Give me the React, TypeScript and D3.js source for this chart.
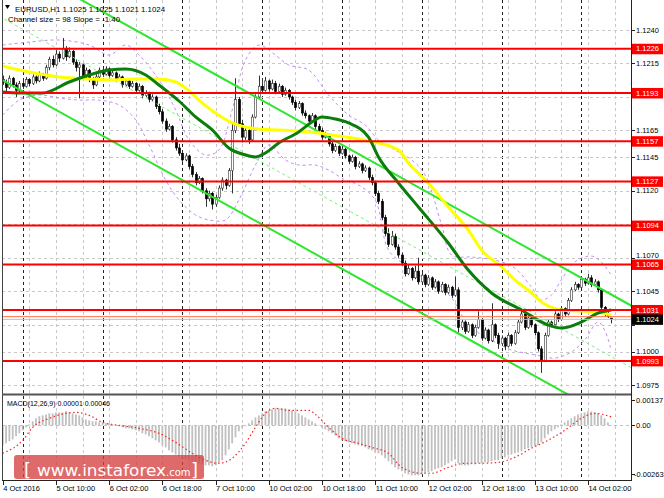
import React from 'react';
import * as d3 from 'd3';

// ---------- DATA (candles in pips above 1.1000) ----------
const candleOpen = [
  203,201,197,204,199,195,200,198,203,200, 205,202,207,204,212,218,214,222,219,226,
  220,224,216,212,214,205,210,203,199,205, 210,207,211,206,208,203,205,199,202,198,
  200,195,198,191,193,188,190,183,179,172, 166,168,158,152,148,143,146,138,132,126,
  129,120,114,118,110,115,122,128,124,135, 165,188,170,160,165,158,175,190,198,195,
  202,196,200,194,198,192,195,190,186,182, 185,178,176,172,176,168,165,160,162,155,
  150,153,148,151,146,142,145,138,140,135, 137,130,126,118,112,100,88,80,86,78,
  72,66,58,62,55,60,52,57,50,55, 48,52,45,50,44,48,42,46,18,22,
  15,20,12,18,24,10,16,8,20,12, 6,10,4,12,6,14,22,28,18,25,
  20,14,2,-7,12,22,20,28,24,32, 28,38,46,50,48,54,51,55,50,52,
  46,33,28,25];
const candleHigh = [
  206,203,206,205,201,202,203,205,204,207, 206,209,208,214,220,221,225,224,234,228,
  227,225,218,216,215,212,211,205,207,212, 211,213,212,210,209,207,206,204,203,202,
  201,200,199,195,194,192,191,185,181,174, 170,169,160,155,150,148,147,140,134,131,
  130,122,120,119,117,124,130,129,137,170, 204,190,173,167,166,177,192,206,204,205,
  203,203,202,200,199,197,196,191,188,187, 186,180,177,178,177,170,167,164,163,157,
  155,154,153,152,147,147,146,142,141,139, 138,132,127,120,114,102,92,90,88,80,
  74,68,65,63,64,70,59,58,57,56, 54,53,52,51,50,49,56,48,24,23,
  22,21,20,30,25,18,17,36,21,14, 12,11,14,13,16,24,32,29,27,26,
  21,15,4,14,24,23,30,29,34,33, 40,48,52,51,56,55,58,57,54,53,
  47,34,30,25];
const candleLow = [
  199,194,196,197,190,193,196,197,198,199, 200,201,202,203,210,212,213,216,218,217,
  219,214,209,189,203,204,201,196,198,204, 205,206,204,205,201,202,197,198,196,197,
  193,194,189,190,186,187,181,177,170,164, 165,156,150,146,141,142,136,130,124,125,
  118,108,112,106,108,114,120,121,123,118, 163,168,156,158,155,157,174,188,193,194,
  194,195,192,193,190,191,188,184,180,181, 176,174,170,171,166,163,158,159,153,148,
  149,146,147,144,140,141,136,137,133,134, 128,124,116,110,98,86,78,79,76,70,
  64,56,57,53,54,50,51,48,49,46, 47,43,44,42,43,40,41,14,16,13,
  14,10,11,17,8,9,6,7,10,2, 4,1,3,4,5,13,21,16,17,18,
  12,0,-16,-8,11,18,19,22,23,26, 27,37,45,46,47,49,50,48,49,44,
  31,26,25,21];
const candleClose = [
  201,197,204,199,195,200,198,203,200,205, 202,207,204,212,218,214,222,219,226,220,
  224,216,212,214,205,210,203,199,205,210, 207,211,206,208,203,205,199,202,198,200,
  195,198,191,193,188,190,183,179,172,166, 168,158,152,148,143,146,138,132,126,129,
  120,114,118,110,115,122,128,124,135,165, 188,170,160,165,158,175,190,198,195,202,
  196,200,194,198,192,195,190,186,182,185, 178,176,172,176,168,165,160,162,155,150,
  153,148,151,146,142,145,138,140,135,137, 130,126,118,112,100,88,80,86,78,72,
  66,58,62,55,60,52,57,50,55,48, 52,45,50,44,48,42,46,18,22,15,
  20,12,18,24,10,16,8,20,12,6, 10,4,12,6,14,22,28,18,25,20,
  14,2,-7,12,22,20,28,24,32,28, 38,46,50,48,54,51,55,50,52,46,
  33,28,26,24];

// moving averages (bar index, pips)
const yellowIdx = [0,8,17,26,32,40,47,52,55,59,64,69,73,77,83,89,95,101,107,113,119,122,128,134,140,144,150,154,158,162,164,168,174,179,183];
const yellowVal = [213.1,208.6,204.9,203.4,202.7,203.4,203.4,201.2,196.7,187.7,178.0,170.6,167.6,166.1,165.4,164.6,163.1,160.9,158.6,155.6,150.4,140.7,125.8,107.9,90.7,75.8,63.1,53.4,45.9,37.0,34.0,31.0,30.2,29.5,27.2];
const greenIdx = [0,5,12,20,26,32,37,43,47,53,58,63,68,73,76,79,83,89,93,96,100,104,110,113,119,125,134,140,147,156,164,168,174,179,183];
const greenVal = [193.7,193.0,193.0,201.2,206.4,210.1,210.9,206.4,198.9,187.0,175.1,165.4,151.9,146.7,145.2,148.2,155.6,163.9,171.3,175.1,173.6,170.6,160.1,145.2,125.8,107.9,81.0,60.8,43.7,31.0,19.8,17.5,22.0,28.7,31.0];

// envelope bands (bar index, pips)
const upperIdx = [0,8,17,26,32,37,41,47,52,56,61,65,69,73,77,82,86,92,98,104,109,113,118,123,127,132,135,141,148,154,159,162,165,168,172,177,180,183];
const upperVal = [228.8,231.0,232.5,228.8,221.3,228.8,221.3,202.7,180.3,157.9,146.7,150.4,180.3,217.6,228.8,221.3,213.9,210.1,191.5,176.5,169.1,157.9,150.4,143.0,131.8,94.4,72.0,70.5,68.3,62.3,48.1,38.4,42.2,53.4,66.8,71.3,66.8,57.1];
const lowerIdx = [0,5,11,17,23,29,35,40,44,49,53,58,62,67,71,76,80,85,89,94,98,103,107,112,116,121,125,130,135,139,144,148,153,157,162,166,171,175,179,181,183];
const lowerVal = [176.5,187.7,191.5,189.2,187.7,187.7,184.0,172.8,154.2,128.0,113.1,101.9,98.2,98.2,113.1,139.2,154.2,143.0,139.2,139.2,135.5,128.0,124.3,113.1,75.8,64.6,57.1,51.9,40.0,23.5,12.3,7.1,1.1,-1.1,-3.4,-4.9,-0.4,8.6,22.0,16.0,1.1];

// regression channel (bar index, price) and half width
const channelIdx = [0, 190];
const channelMid = [1.12488, 1.09866];
const channelHalf = 0.00463;

// horizontal levels
const redLevels = [1.1226, 1.1193, 1.1157, 1.1127, 1.1094, 1.1065, 1.1031, 1.0993];
const orangeLevel = 1.1026;
const bidLevel = 1.1024;
const priceTicks = [1.124, 1.1215, 1.119, 1.1165, 1.1145, 1.112, 1.1095, 1.107, 1.1045, 1.102, 1.1, 1.0975];
// tick labels hidden behind the level boxes in the reference
const hiddenTickLabels = [1.119, 1.1095, 1.102];

// time axis
const timeLabelIdx = [0, 16, 32, 48, 64, 80, 96, 112, 128, 144, 160, 176];
const timeLabels = ['4 Oct 2016', '5 Oct 10:00', '6 Oct 02:00', '6 Oct 18:00', '7 Oct 10:00', '10 Oct 02:00', '10 Oct 18:00', '11 Oct 10:00', '12 Oct 02:00', '12 Oct 18:00', '13 Oct 10:00', '14 Oct 02:00'];
const gridIdx = [8, 16, 24, 32, 40, 48, 56, 64, 72, 80, 88, 96, 104, 112, 120, 128, 136, 144, 152, 160, 168, 176, 184];
const daySepIdx = [6, 30, 54, 78, 102, 126, 150, 174];

// MACD histogram (units of 0.00001)
const macdMain = [
  -108,-97,-86,-76,-59,-43,-27,-11,5,22, 38,49,54,59,65,65,70,70,70,76,
  70,65,59,54,43,32,27,22,22,16, 16,11,11,5,0,-5,-11,-16,-16,-22,
  -27,-32,-43,-49,-59,-70,-81,-92,-108,-119, -135,-146,-157,-167,-178,-184,-189,-194,-200,-205,
  -211,-216,-216,-221,-216,-205,-189,-162,-130,-97, -65,-32,-16,-5,11,27,43,54,65,76,
  81,86,92,92,92,92,86,81,76,65, 54,43,32,22,11,0,-11,-22,-32,-43,
  -54,-70,-81,-86,-92,-97,-103,-108,-113,-119, -130,-135,-146,-151,-162,-178,-194,-211,-227,-238,
  -248,-259,-265,-270,-270,-270,-265,-259,-254,-248, -238,-232,-227,-216,-205,-194,-184,-205,-216,-216,
  -216,-211,-211,-205,-205,-200,-200,-194,-189,-189, -178,-173,-162,-157,-151,-146,-140,-130,-124,-119,
  -113,-108,-92,-70,-49,-32,-22,-11,5,16, 27,38,49,59,65,70,76,76,70,65,
  54,38,16,1];
const signalIdx = [0,6,9,14,19,22,26,30,35,41,47,52,57,61,65,69,73,76,79,82,86,92,95,98,102,107,111,116,120,126,129,134,139,144,149,154,159,164,169,174,178,183];
const signalVal = [-151,-81,-11,38,65,70,54,16,0,-16,-43,-92,-151,-189,-205,-178,-97,-11,65,92,81,81,43,-11,-70,-97,-119,-151,-227,-259,-259,-227,-205,-205,-200,-173,-124,-81,-27,38,65,46];

const FONT = 'Liberation Sans, Arial, sans-serif';

export default function App() {
  React.useEffect(() => {
    document.body.style.margin = '0';
  }, []);

  const W = 664, H = 498;
  const L = 2, R = 631, mainBottom = 394, macdTop = 396, macdBottom = 480;

  const x = d3.scaleLinear().domain([0, 183]).range([2.75, 2.75 + 183 * 3.325]);
  const y = d3.scaleLinear().domain([1.0975, 1.124]).range([385, 30]);
  const ym = d3.scaleLinear().domain([-0.00263, 0.00137]).range([474, 400]);
  const P = (p: number) => 1.1 + p * 0.0001;

  const lineP = d3.line<[number, number]>().x(d => x(d[0])).y(d => y(P(d[1])));
  const maPath = (idx: number[], val: number[]) =>
    lineP.curve(d3.curveMonotoneX)(idx.map((v, k) => [v, val[k]] as [number, number])) || '';
  const bandPath = (idx: number[], val: number[]) =>
    lineP.curve(d3.curveCatmullRom)(idx.map((v, k) => [v, val[k]] as [number, number])) || '';

  const chan = d3.scaleLinear().domain(channelIdx).range(channelMid);
  const chanLine = (off: number) => {
    const a = -20, b = 200;
    return `M${x(a)},${y(chan(a) + off)}L${x(b)},${y(chan(b) + off)}`;
  };

  const sigPath = d3.line<[number, number]>()
    .x(d => x(d[0])).y(d => ym(d[1] * 1e-5)).curve(d3.curveMonotoneX)(
      signalIdx.map((v, k) => [v, signalVal[k]] as [number, number])) || '';

  const crisp = (v: number) => Math.round(v) + 0.5;

  return (
    <svg width={W} height={H} style={{ position: 'absolute', left: 0, top: 0, display: 'block', background: '#fff' }}
      fontFamily={FONT}>
      <defs>
        <clipPath id="mainClip"><rect x={L} y={0} width={R - L} height={mainBottom} /></clipPath>
        <clipPath id="macdClip"><rect x={L} y={macdTop} width={R - L} height={macdBottom - macdTop} /></clipPath>
      </defs>
      <rect x={0} y={0} width={W} height={H} fill="#fff" />

      {/* vertical grid */}
      {gridIdx.map(i => (
        <line key={'g' + i} x1={crisp(x(i))} x2={crisp(x(i))} y1={0} y2={macdBottom}
          stroke="#c8c8c8" strokeWidth={1} strokeDasharray="3,3" />
      ))}
      {daySepIdx.map(i => (
        <line key={'d' + i} x1={crisp(x(i))} x2={crisp(x(i))} y1={0} y2={macdBottom}
          stroke="#222" strokeWidth={1} strokeDasharray="3,3" />
      ))}
      {/* horizontal grid */}
      {priceTicks.map(p => (
        <line key={'h' + p} x1={L} x2={R} y1={crisp(y(p))} y2={crisp(y(p))}
          stroke="#c8c8c8" strokeWidth={1} strokeDasharray="3,3" />
      ))}

      <g clipPath="url(#mainClip)">
        {/* envelope bands */}
        <path d={bandPath(upperIdx, upperVal)} fill="none" stroke="#c58cf0" strokeWidth={1} strokeDasharray="3,3" />
        <path d={bandPath(lowerIdx, lowerVal)} fill="none" stroke="#c58cf0" strokeWidth={1} strokeDasharray="3,3" />

        {/* candles */}
        {candleClose.map((c, i) => {
          const o = candleOpen[i], h = candleHigh[i], l = candleLow[i];
          const cx = crisp(x(i));
          const top = y(P(Math.max(o, c))), bot = y(P(Math.min(o, c)));
          const bull = c >= o;
          return (
            <g key={'c' + i}>
              <line x1={cx} x2={cx} y1={y(P(h))} y2={y(P(l))} stroke="#333" strokeWidth={1} />
              <rect x={cx - 1.1} y={top} width={2.2} height={Math.max(1, bot - top)}
                fill={bull ? '#fff' : '#000'} stroke={bull ? '#333' : '#000'} strokeWidth={0.6} />
            </g>
          );
        })}

        {/* regression channel */}
        <path d={chanLine(0)} stroke="#7cf07c" strokeWidth={1} strokeDasharray="3,3" fill="none" />
        <path d={chanLine(channelHalf)} stroke="#2ee62e" strokeWidth={2} fill="none" />
        <path d={chanLine(-channelHalf)} stroke="#2ee62e" strokeWidth={2} fill="none" />

        {/* moving averages */}
        <path d={maPath(yellowIdx, yellowVal)} fill="none" stroke="#ffff00" strokeWidth={3} strokeLinejoin="round" />
        <path d={maPath(greenIdx, greenVal)} fill="none" stroke="#0a7d0a" strokeWidth={3} strokeLinejoin="round" />

        {/* levels */}
        <line x1={L} x2={R} y1={y(bidLevel)} y2={y(bidLevel)} stroke="#c0c0c0" strokeWidth={1} />
        <line x1={L} x2={R} y1={y(orangeLevel)} y2={y(orangeLevel)} stroke="#ff7043" strokeWidth={1} />
        {redLevels.map(p => (
          <line key={'r' + p} x1={L} x2={R} y1={y(p)} y2={y(p)} stroke="#ff0000" strokeWidth={2} />
        ))}
      </g>

      {/* MACD */}
      <g clipPath="url(#macdClip)">
        <line x1={L} x2={R} y1={crisp(ym(0))} y2={crisp(ym(0))} stroke="#c0c0c0" strokeDasharray="3,3" />
        {macdMain.map((v, i) => {
          const y0 = ym(0), y1 = ym(v * 1e-5);
          return <rect key={'m' + i} x={x(i) - 0.9} y={Math.min(y0, y1)} width={1.8}
            height={Math.max(0.5, Math.abs(y1 - y0))} fill="#c0c0c0" />;
        })}
        <path d={sigPath} fill="none" stroke="#ff2020" strokeWidth={1.2} strokeDasharray="1.5,2.5" />
      </g>
      <text x={7} y={406} fontSize={7.7} fill="#000" textLength={103} lengthAdjust="spacingAndGlyphs">MACD(12,26,9) 0.00001 0.00046</text>

      {/* borders */}
      <line x1={2.5} x2={2.5} y1={0} y2={macdBottom} stroke="#444" strokeWidth={1} />
      <line x1={R + 0.5} x2={R + 0.5} y1={0} y2={macdBottom} stroke="#222" strokeWidth={1} />
      <line x1={L} x2={R} y1={394.5} y2={394.5} stroke="#555" strokeWidth={2} />
      <line x1={L} x2={R + 1} y1={480.5} y2={480.5} stroke="#222" strokeWidth={1} />

      {/* right price axis */}
      {priceTicks.map(p => (
        <g key={'t' + p}>
          <line x1={R} x2={R + 4} y1={crisp(y(p))} y2={crisp(y(p))} stroke="#222" />
          {hiddenTickLabels.indexOf(p) < 0 && (
            <text x={636} y={y(p) - (p === 1.107 ? 2 : 0)} dy="0.35em" fontSize={7.5} fill="#000">{p.toFixed(4)}</text>
          )}
        </g>
      ))}
      {redLevels.map(p => (
        <g key={'rb' + p}>
          <rect x={R + 1} y={y(p) - 5} width={31} height={10.5} fill="#ff0000" />
          <text x={636} y={y(p)} dy="0.35em" fontSize={7.5} fill="#fff">{p.toFixed(4)}</text>
        </g>
      ))}
      <rect x={R + 1} y={y(bidLevel) - 5} width={31} height={10.5} fill="#000" />
      <text x={636} y={y(bidLevel)} dy="0.35em" fontSize={7.5} fill="#fff">{bidLevel.toFixed(4)}</text>

      {/* MACD axis */}
      {[0.00137, 0, -0.00263].map(v => (
        <g key={'mt' + v}>
          <line x1={R} x2={R + 4} y1={crisp(ym(v))} y2={crisp(ym(v))} stroke="#222" />
          <text x={v < 0 ? 634 : 636} y={ym(v)} dy="0.35em" fontSize={7.5} fill="#000">
            {v === 0 ? '0.00' : v.toFixed(5)}
          </text>
        </g>
      ))}

      {/* time axis */}
      {timeLabelIdx.map((i, k) => (
        <g key={'tl' + i}>
          <line x1={crisp(x(i))} x2={crisp(x(i))} y1={480} y2={485} stroke="#222" />
          <text x={x(i) + 0.5} y={491} fontSize={7.5} fill="#000">{timeLabels[k]}</text>
        </g>
      ))}

      {/* watermark */}
      <rect x={14} y={455} width={190} height={24} rx={3} fill="rgba(214,64,64,0.78)" />
      <text y={476} fill="#fff" fontFamily="DejaVu Sans, sans-serif">
        <tspan x={24} fontSize={18}>[</tspan>
        <tspan x={37} fontSize={16} textLength={129} lengthAdjust="spacingAndGlyphs">www.instaforex</tspan>
        <tspan x={166} fontSize={10}>.com</tspan>
        <tspan x={191} fontSize={18}>]</tspan>
      </text>

      {/* header */}
      <path d="M5,5 L10,5 L7.5,9 Z" fill="#000" />
      <text x={15} y={12} fontSize={7.7} fill="#000" textLength={150} lengthAdjust="spacingAndGlyphs">EURUSD,H1  1.1025 1.1025 1.1021 1.1024</text>
      <text x={8} y={22} fontSize={7.7} fill="#000" textLength={112} lengthAdjust="spacingAndGlyphs">Channel size = 98 Slope = -1.40</text>
    </svg>
  );
}
